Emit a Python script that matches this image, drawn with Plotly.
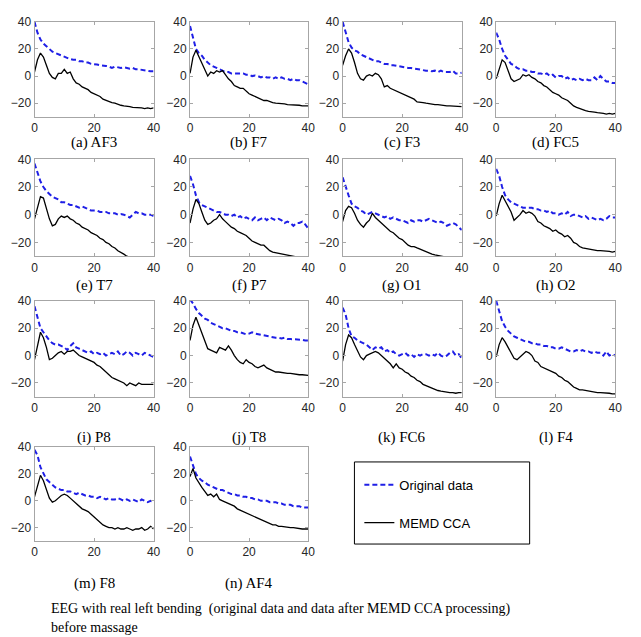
import plotly.graph_objects as go

freq = list(range(0, 41))

labels = ["(a) AF3", "(b) F7", "(c) F3", "(d) FC5",
          "(e) T7", "(f) P7", "(g) O1", "(h) O2",
          "(i) P8", "(j) T8", "(k) FC6", "(l) F4",
          "(m) F8", "(n) AF4"]

orig_AF3 = [40, 32, 27, 24, 22, 20, 18, 17, 16, 15, 14, 13, 12.5, 12, 12, 11, 11, 10, 10, 9, 9, 8.5, 8, 8, 7.5, 7, 6, 7, 6.5, 6, 6.5, 6, 5.5, 6, 5, 5, 4.5, 4, 4, 3.5, 3.5]
memd_AF3 = [3, 12, 17, 14, 8, 2, -1, -2, 2, 2, 5, 2, 3, -2, -5, -6, -8, -9, -10, -12, -13, -14, -15, -17, -18, -19, -19.5, -20, -21, -21.5, -22, -22, -22.5, -23, -23, -23.5, -23.5, -24, -23.5, -24, -23.5]

orig_F7 = [37, 28, 20, 17, 15, 12, 10, 8, 7, 6, 5, 4, 3, 3, 2, 2, 2, 2.5, 2, 1, 1, 0, 0.5, 0, -1, 0, -1, -1, -2, -1, -2, -1, -2, -2, -3, -2, -3, -3, -4, -5, -6]
memd_F7 = [2, 14, 19, 14, 10, 5, 0, 3, 2, 4, 3, 4, 1, -2, -4, -7, -8, -9, -9, -11, -13, -14, -15, -16, -17, -18, -18, -19, -19.5, -20, -20, -20.5, -20.5, -21, -21, -21, -21.5, -21.5, -22, -22, -22]

orig_F3 = [40, 32, 25, 21, 19, 18, 16, 15, 14, 13, 12, 11, 11, 10, 9, 9, 8, 8, 7.5, 7, 7, 6, 6, 6, 5.5, 5, 5, 4.5, 4, 4, 3.5, 4, 3, 4, 3, 3, 3, 4, 2, 2, 2.5]
memd_F3 = [8, 15, 20, 17, 10, 2, -2, -3, 0, 1, 0, 2, 1, -2, -8, -7, -9, -10, -11, -12, -13, -14, -15, -16, -17, -19, -19, -19.5, -20, -20.5, -21, -21, -21, -21.5, -21.5, -22, -22, -22, -22.5, -22.5, -22.5]

orig_FC5 = [32, 27, 20, 15, 12, 9, 8, 6, 5, 5, 4, 4, 3, 3, 2, 2, 1, 2, 0, 1, -1, 0, 0, -2, -1, -3, -2, -3, -2, -3, -2, -3, -3, -1, -3, 0, -2, -4, -4, -5, -5]
memd_FC5 = [-2, 6, 12, 10, 4, -2, -4, -3, -2, 1, 0, 1, -1, -2, -4, -5, -7, -8, -10, -12, -13, -14, -16, -17, -18, -20, -22, -23, -24, -25, -25.5, -26, -26, -26.5, -27, -27, -27.5, -28, -27.5, -28, -27.5]

orig_T7 = [37, 31, 24, 20, 17, 15, 13, 12, 11, 9, 9, 8, 7, 7, 6, 5, 6, 5, 4, 3, 3, 3, 2, 2, 2, 1, 1, 1, 0, 0.5, 0, -1, -2, 0, 2, 1, 1, 0, 0, 0, -1]
memd_T7 = [-3, 5, 13, 12, 5, -3, -8, -7, -3, -1, -2, -1, -3, -4, -6, -7, -9, -10, -11, -13, -14, -15, -17, -18, -20, -21, -23, -24, -26, -27, -28.5, -30, -31, -32, -32.5, -33, -34, -34.5, -35, -35.5, -36]

orig_P7 = [28, 22, 14, 9, 7, 6, 5, 4, 3, 2, 2, 1, 0, 0, -1, 0, -2, -1, -3, -2, -3, -4, -2, -4, -3, -2, -4, -2, -3, -4, -3, -4, -6, -5, -6, -8, -6, -6, -5, -7, -10]
memd_P7 = [-6, 4, 11, 8, 2, -4, -7, -6, -4, -3, 0, -3, -5, -7, -9, -10, -12, -13, -14, -15, -17, -19, -20, -21, -22, -22, -24, -26, -27, -27.5, -28, -28.5, -29, -29.5, -30, -30, -30.5, -30.5, -31, -31, -31]

orig_O1 = [27, 20, 14, 8, 6, 5, 3, 2, 0, 1, 2, 1, 0, -1, -2, -1, -3, -2, -3, -4, -4, -5, -6, -4, -5, -4, -4, -5, -4, -3, -4, -5, -6, -5, -6, -8, -7, -6, -7, -9, -11]
memd_O1 = [-5, 3, 6, 5, 1, -4, -7, -9, -6, -4, 1, -2, -4, -6, -8, -10, -12, -13, -15, -17, -18, -20, -22, -23, -23, -24, -25, -26, -27, -28, -28.5, -29, -29.5, -30, -30.5, -31, -31.5, -32, -32, -32.5, -33]

orig_O2 = [33, 28, 20, 14, 11, 9, 8, 7, 6, 5, 5, 5, 5, 4, 4, 3, 3, 2, 3, 1, 1, 0, 1, 0, 2, -1, 0, 0, -1, -2, -1, -3, -2, -3, -4, -3, -4, -3, -1, -2, -2]
memd_O2 = [-1, 8, 14, 10, 5, 2, -4, -2, 0, 3, 1, 2, 1, -1, -5, -6, -8, -9, -10, -12, -11, -13, -14, -16, -15, -17, -20, -21, -23, -24, -24.5, -25, -25, -25.5, -26, -26, -26, -26.5, -26.5, -27, -26.5]

orig_P8 = [36, 28, 20, 17, 14, 11, 9, 8, 8, 7, 6, 4, 7, 9, 6, 5, 4, 3, 2, 3, 1, 2, 1, 2, 0, 1, 2, 1, 3, 0, 1, 3, 2, 0, 2, 1, 0, 2, 1, 0, -1]
memd_P8 = [-3, 8, 17, 13, 6, -3, -2, 0, 2, 3, 1, 3, 3, 4, 2, 0, -1, -2, -3, -4, -5, -7, -8, -10, -12, -14, -16, -17, -18, -19, -20, -22, -20, -21, -22, -20, -21, -21, -21, -21, -21]

orig_T8 = [41, 38, 34, 31, 29, 27, 26, 24, 23, 22, 21, 20, 20, 19, 18, 18, 17, 17, 16, 15.5, 16, 17, 16, 15.5, 15, 14.5, 14, 14, 13.5, 13, 13, 12.5, 13, 12, 12, 12, 12, 12, 11.5, 11, 11]
memd_T8 = [11, 22, 28, 22, 17, 10, 5, 4, 3, 2, 6, 5, 4, 7, 4, 0, -3, -5, -6, -3, -5, -6, -8, -9, -8, -7, -9, -10, -11, -12, -12, -12.5, -13, -13, -13, -13.5, -13.5, -14, -14, -14, -14.5]

orig_FC6 = [35, 30, 20, 14, 13, 11, 10, 9, 8, 6, 4, 6, 5, 6, 3, 4, 2, 3, 1, 0, 1, 2, 0, 1, -1, 1, 0, 1, 1, 0, 1, 0, 2, 0, -1, 0, 2, 3, 0, 1, -2]
memd_FC6 = [-4, 8, 15, 13, 8, 3, -1, -3, 0, 1, 2, 3, 2, 0, -2, -4, -6, -9, -6, -9, -10, -12, -13, -15, -16, -18, -19, -21, -22, -23, -24, -25, -25.5, -26, -26.5, -27, -27, -27, -27.5, -27, -27]

orig_F4 = [40, 33, 25, 21, 18, 16, 14, 13, 12, 11, 10, 10, 9, 9, 8, 8, 7, 7, 6, 6, 5, 5, 6, 5, 4, 3, 3, 4, 3, 4, 3, 3, 2, 3, 2, 2, 0, 3, 0, 1, 0]
memd_F4 = [-1, 8, 13, 10, 6, 2, -2, -3, -1, 1, 3, 2, 0, -4, -5, -8, -9, -10, -11, -12, -13, -15, -16, -18, -19, -21, -23, -24, -25, -25, -25.5, -26, -26, -26.5, -27, -27, -27, -27.5, -27.5, -28, -28]

orig_F8 = [38, 34, 25, 20, 16, 14, 12, 10, 9, 8, 8, 7, 7, 6, 5, 6, 5, 4, 4, 3, 3, 2, 3, 2, 1, 2, 1, 1, 2, 1, 0, 1, 0, 1, 0, -1, 1, 0, -1, 0, -1]
memd_F8 = [3, 12, 19, 15, 8, 2, -1, 0, 2, 4, 5, 4, 2, 0, -2, -4, -6, -7, -8, -10, -12, -14, -16, -18, -19, -20, -20, -21, -20, -21, -21, -20, -21, -22, -21, -21, -20, -22, -21, -19, -21]

orig_AF4 = [33, 26, 20, 17, 15, 14, 12, 11, 10, 9, 8, 8, 7, 6, 5, 5, 4, 4, 3, 3, 2, 2, 1, 1, 0, 0, 0, -1, -1, -1, -2, -2, -3, -3, -3, -4, -4, -4, -5, -5, -5]
memd_AF4 = [18, 24, 17, 13, 10, 7, 4, 5, 3, 5, 1, 0, -1, -2, -3, -4, -6, -7, -8, -9, -10, -11, -12, -13, -14, -15, -16, -17, -18, -18, -19, -19, -19.5, -20, -20, -20, -20.5, -20.5, -21, -21, -21]

original = [orig_AF3, orig_F7, orig_F3, orig_FC5, orig_T7, orig_P7, orig_O1, orig_O2,
            orig_P8, orig_T8, orig_FC6, orig_F4, orig_F8, orig_AF4]
memd = [memd_AF3, memd_F7, memd_F3, memd_FC5, memd_T7, memd_P7, memd_O1, memd_O2,
        memd_P8, memd_T8, memd_FC6, memd_F4, memd_F8, memd_AF4]

W, H = 641, 637
col_px = [(32, 153), (190, 310), (345, 466), (501, 622)]
row_px = [(15, 111), (154, 252), (297, 394), (445, 540)]
caption_y = [137, 282, 435, 583]

fig = go.Figure()
annotations = []
axis_line = "#a6a6a6"
tick_font = dict(family="Liberation Sans, Arial", size=12, color="#262626")

for i in range(14):
    r, c = divmod(i, 4)
    n = "" if i == 0 else str(i + 1)
    xa, ya = "x" + n, "y" + n
    fig.add_trace(go.Scatter(x=freq, y=original[i], mode="lines", xaxis=xa, yaxis=ya,
                             line=dict(color="#1f1fe6", width=2, dash="5px,3px"),
                             name="Original data", legendgroup="orig", showlegend=(i == 0)))
    fig.add_trace(go.Scatter(x=freq, y=memd[i], mode="lines", xaxis=xa, yaxis=ya,
                             line=dict(color="#000000", width=1.3),
                             name="MEMD CCA", legendgroup="memd", showlegend=(i == 0)))
    x0, x1 = col_px[c]
    y0, y1 = row_px[r]
    common = dict(showline=True, linecolor=axis_line, linewidth=1, mirror="ticks",
                  ticks="inside", ticklen=3, tickcolor=axis_line, showgrid=False,
                  zeroline=False, tickfont=tick_font)
    fig.layout["xaxis" + n] = dict(domain=[x0 / W, x1 / W], range=[0, 40], tickvals=[0, 20, 40],
                                   anchor=ya, **common)
    fig.layout["yaxis" + n] = dict(domain=[1 - y1 / H, 1 - y0 / H], range=[-30, 40],
                                   tickvals=[-20, 0, 20, 40], anchor=xa, **common)
    annotations.append(dict(text=labels[i], x=(x0 + x1) / 2 / W, y=1 - caption_y[r] / H,
                            xref="paper", yref="paper", showarrow=False,
                            xanchor="center", yanchor="middle",
                            font=dict(family="Liberation Serif, Times New Roman", size=15, color="#000")))

annotations.append(dict(text="EEG with real left bending  (original data and data after MEMD CCA processing)",
                        x=47 / W, y=1 - 609 / H, xref="paper", yref="paper", showarrow=False,
                        xanchor="left", yanchor="middle",
                        font=dict(family="Liberation Serif, Times New Roman", size=14, color="#000")))
annotations.append(dict(text="before massage",
                        x=47 / W, y=1 - 627 / H, xref="paper", yref="paper", showarrow=False,
                        xanchor="left", yanchor="middle",
                        font=dict(family="Liberation Serif, Times New Roman", size=14, color="#000")))

fig.update_layout(
    width=W, height=H,
    margin=dict(l=0, r=0, t=0, b=0),
    paper_bgcolor="white", plot_bgcolor="white",
    annotations=annotations,
    shapes=[dict(type="rect", xref="paper", yref="paper",
                 x0=357 / W, x1=535 / W, y0=1 - 543 / H, y1=1 - 460 / H,
                 line=dict(color="#000", width=1), fillcolor="rgba(0,0,0,0)")],
    showlegend=True,
    legend=dict(x=362 / W, y=1 - 468 / H, xanchor="left", yanchor="top",
                bgcolor="rgba(0,0,0,0)", borderwidth=0, tracegroupgap=18,
                traceorder="grouped",
                font=dict(family="Liberation Sans, Arial", size=13, color="#000")),
)

fig.write_html("out.html")
